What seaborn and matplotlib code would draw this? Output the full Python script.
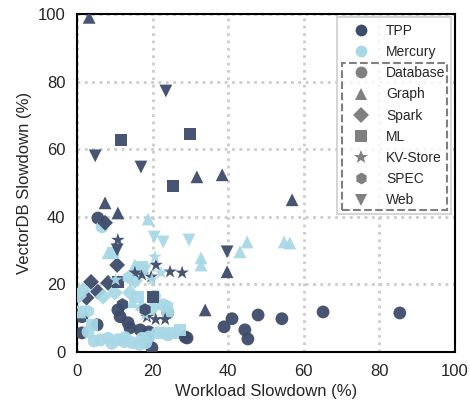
import numpy as np
import pandas as pd
import matplotlib
matplotlib.use("Agg")
import matplotlib.pyplot as plt
import seaborn as sns
from matplotlib.lines import Line2D
from matplotlib.patches import Rectangle

# ======================================
# DATA
# ======================================

systems = ["TPP", "Mercury"]
workloads = ["Database", "Graph", "Spark", "ML", "KV-Store", "SPEC", "Web"]

# TPP
tpp_db_x = [5.5, 1.3, 1.3, 5.3, 10.8, 11.4, 13.5, 14.0, 16.7, 19.0, 18.5, 19.8,
            24.0, 29.1, 28.6, 38.9, 41.0, 44.4, 45.2, 47.9, 54.2, 65.1, 85.4]
tpp_db_y = [39.6, 10.4, 5.6, 8.0, 12.4, 10.4, 8.6, 7.1, 6.5, 5.9, 3.0, 1.2,
            11.5, 4.1, 4.4, 7.4, 9.8, 6.5, 3.8, 10.9, 9.8, 11.8, 11.5]
tpp_graph_x = [3.2, 7.4, 10.8, 31.7, 38.4, 56.9, 39.7, 33.9]
tpp_graph_y = [99.0, 44.1, 41.1, 51.8, 52.4, 45.0, 23.7, 12.4]
tpp_spark_x = [7.4, 10.6, 3.7, 5.5, 8.2, 2.5]
tpp_spark_y = [38.2, 25.7, 20.7, 17.8, 20.4, 16.0]
tpp_ml_x = [11.6, 29.9, 25.4, 20.1, 10.8]
tpp_ml_y = [62.7, 64.5, 49.1, 16.3, 20.7]
tpp_kv_x = [10.8, 20.9, 24.6, 27.8, 15.3, 17.2, 19.6, 18.5, 20.8, 23.3]
tpp_kv_y = [33.1, 25.7, 23.7, 23.4, 23.4, 22.8, 22.2, 10.3, 9.6, 9.6]
tpp_spec_x = [12.0, 18.0]
tpp_spec_y = [14.0, 12.5]
tpp_web_x = [23.5, 4.8, 16.9, 10.6, 39.7]
tpp_web_y = [77.2, 58.0, 54.7, 30.2, 29.6]

# Mercury
mer_db_x = [6.6, 2.9, 4.5, 6.1, 8.2, 9.2, 10.8, 12.7, 14.6, 16.5, 17.2, 18.2,
            19.0, 21.2, 22.8, 24.0, 22.8, 24.0, 20.5, 12.5]
mer_db_y = [37.0, 5.9, 3.2, 3.5, 4.0, 2.5, 3.6, 4.2, 2.7, 2.2, 4.0, 2.7,
            4.4, 5.6, 5.6, 5.0, 13.9, 11.5, 16.5, 3.0]
mer_graph_x = [18.8, 45.0, 54.8, 56.3, 43.1, 32.8, 32.8, 8.2, 14.6, 17.0, 0.8, 15.3]
mer_graph_y = [39.3, 32.5, 32.5, 32.2, 29.6, 27.8, 25.7, 29.3, 14.8, 14.0, 11.8, 25.7]
mer_spark_x = [1.6, 0.5, 6.9, 10.0, 14.0, 15.3, 20.0]
mer_spark_y = [18.3, 16.5, 16.3, 17.5, 17.5, 21.0, 13.0]
mer_ml_x = [9.5, 17.2, 16.0, 25.4, 27.2, 4.0]
mer_ml_y = [29.3, 25.1, 16.3, 5.6, 6.5, 8.0]
mer_kv_x = [20.6, 22.2, 19.8, 18.0, 10.2]
mer_kv_y = [28.1, 23.4, 21.3, 11.0, 21.3]
mer_spec_x = [13.5, 24.0, 3.0]
mer_spec_y = [22.0, 13.5, 12.0]
mer_web_x = [20.4, 22.8, 29.6, 1.3, 18.0]
mer_web_y = [34.0, 32.5, 33.1, 11.8, 24.0]

# ======================================
# BUILD DATAFRAME
# ======================================

series = {
    ("TPP", "Database"): (tpp_db_x, tpp_db_y),
    ("TPP", "Graph"): (tpp_graph_x, tpp_graph_y),
    ("TPP", "Spark"): (tpp_spark_x, tpp_spark_y),
    ("TPP", "ML"): (tpp_ml_x, tpp_ml_y),
    ("TPP", "KV-Store"): (tpp_kv_x, tpp_kv_y),
    ("TPP", "SPEC"): (tpp_spec_x, tpp_spec_y),
    ("TPP", "Web"): (tpp_web_x, tpp_web_y),
    ("Mercury", "Database"): (mer_db_x, mer_db_y),
    ("Mercury", "Graph"): (mer_graph_x, mer_graph_y),
    ("Mercury", "Spark"): (mer_spark_x, mer_spark_y),
    ("Mercury", "ML"): (mer_ml_x, mer_ml_y),
    ("Mercury", "KV-Store"): (mer_kv_x, mer_kv_y),
    ("Mercury", "SPEC"): (mer_spec_x, mer_spec_y),
    ("Mercury", "Web"): (mer_web_x, mer_web_y),
}

rows = []
for w in workloads:
    for s in systems:
        xs, ys = series[(s, w)]
        for x, y in zip(xs, ys):
            rows.append({"System": s, "Workload": w, "x": x, "y": y})
df = pd.DataFrame(rows)

# ======================================
# STYLE
# ======================================

sns.set_style("white")
plt.rcParams["font.family"] = ["Liberation Sans", "DejaVu Sans"]

palette = {"TPP": "#3d4c6a", "Mercury": "#a8d8e6"}
markers = {"Database": "o", "Graph": "^", "Spark": "D", "ML": "s",
           "KV-Store": "*", "SPEC": "h", "Web": "v"}
sizes = {"Database": 85, "Graph": 85, "Spark": 65, "ML": 80,
         "KV-Store": 105, "SPEC": 85, "Web": 85}

fig = plt.figure(figsize=(4.7, 4.11), dpi=100)
ax = fig.add_axes([0.164, 0.144, 0.804, 0.822])

ax.grid(True, linestyle=":", color="#cccccc", linewidth=2)
ax.set_axisbelow(True)

for w in workloads:
    sub = df[df["Workload"] == w]
    sns.scatterplot(
        data=sub, x="x", y="y", hue="System", palette=palette,
        marker=markers[w], s=sizes[w], linewidth=0, alpha=0.95,
        legend=False, ax=ax, zorder=3
    )

ax.set_xlim(0, 100)
ax.set_ylim(0, 100)
ax.set_xticks([0, 20, 40, 60, 80, 100])
ax.set_yticks([0, 20, 40, 60, 80, 100])
ax.tick_params(axis="both", labelsize=12, direction="out", length=5, width=1.5)
ax.set_xlabel("Workload Slowdown (%)", fontsize=12)
ax.set_ylabel("VectorDB Slowdown (%)", fontsize=12)
for sp in ax.spines.values():
    sp.set_linewidth(1.5)
    sp.set_color("black")

# ======================================
# LEGEND
# ======================================

handles = [
    Line2D([], [], linestyle="", marker="o", markersize=8.5,
           markerfacecolor=palette[s], markeredgewidth=0, label=s)
    for s in systems
]
handles += [
    Line2D([], [], linestyle="", marker=markers[w],
           markersize=10.5 if w == "KV-Store" else 8.5,
           markerfacecolor="#808080", markeredgewidth=0, label=w)
    for w in workloads
]
leg = ax.legend(handles=handles, loc="upper right", fontsize=10,
                frameon=True, fancybox=False, borderaxespad=0.25,
                handlelength=2.6, handletextpad=0.5, labelspacing=0.52,
                borderpad=0.45)
leg.get_frame().set_edgecolor("#cccccc")
leg.get_frame().set_linewidth(1.5)

fig.canvas.draw()
renderer = fig.canvas.get_renderer()
inv = ax.transAxes.inverted()
lb = leg.get_window_extent(renderer)
texts = leg.get_texts()
t_top = texts[1].get_window_extent(renderer)
t_db = texts[2].get_window_extent(renderer)
x0, _ = inv.transform((lb.x0 + 5, 0))
x1, _ = inv.transform((lb.x1 - 4, 0))
_, ytop = inv.transform((0, (t_top.y0 + t_db.y1) / 2))
_, ybot = inv.transform((0, lb.y0 + 4))
rect = Rectangle((x0, ybot), x1 - x0, ytop - ybot, transform=ax.transAxes,
                 fill=False, edgecolor="#808080", linestyle="--",
                 linewidth=1.5, zorder=10, clip_on=False)
ax.add_patch(rect)

fig.savefig("out.png", dpi=100)
plt.close()
